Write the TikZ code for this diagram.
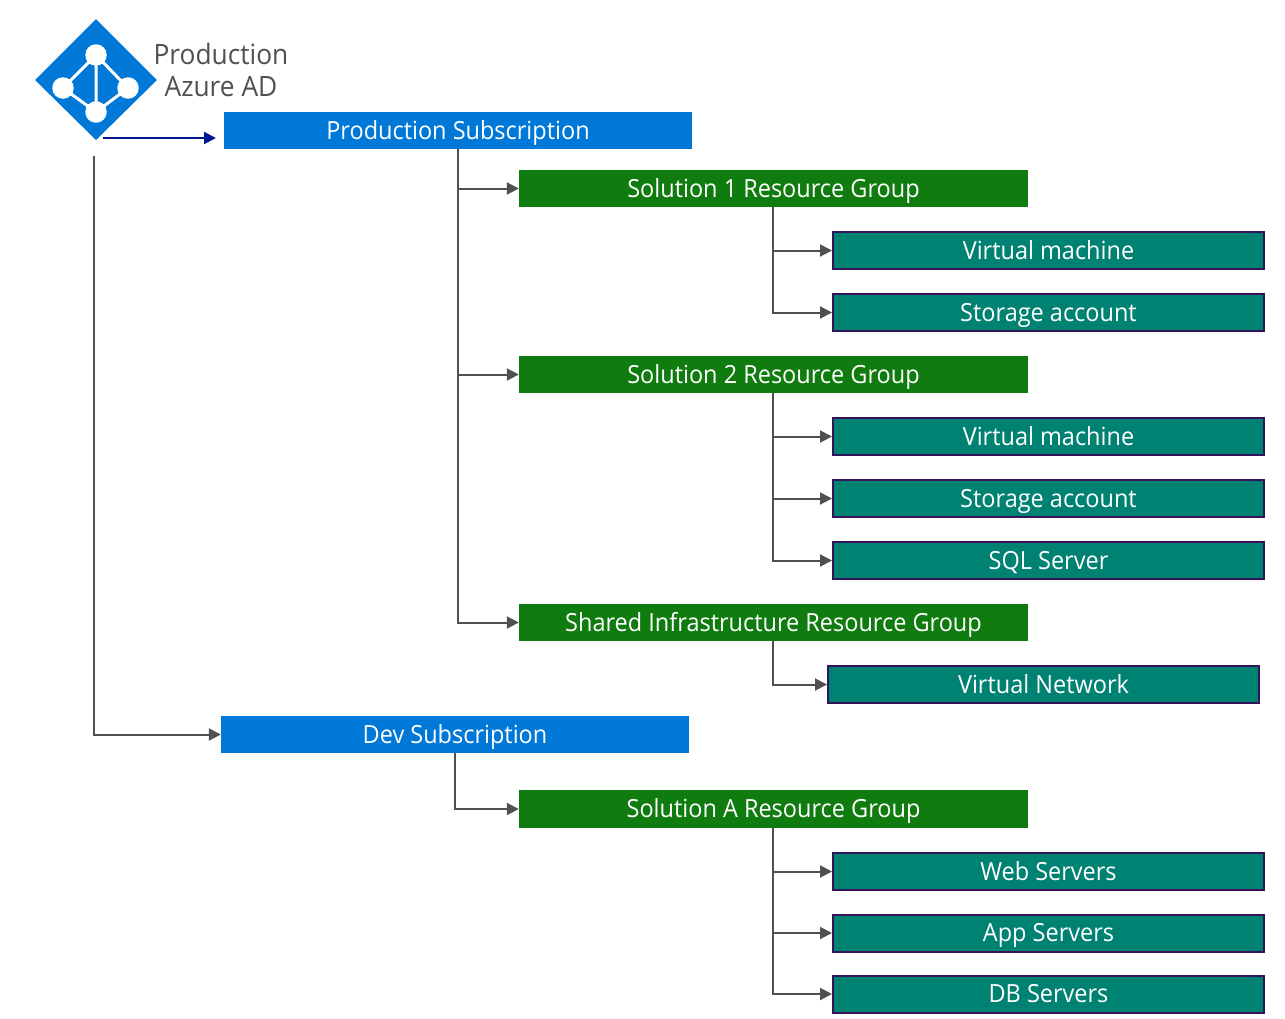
\documentclass[tikz,border=0pt]{standalone}
\usepackage{fontspec}
\setmainfont[FakeStretch=0.94]{Open Sans}
\usetikzlibrary{arrows.meta}
\definecolor{azblue}{HTML}{0078D7}
\definecolor{rggreen}{HTML}{107C10}
\definecolor{resteal}{HTML}{008272}
\definecolor{resline}{HTML}{32145A}
\definecolor{conn}{HTML}{505050}
\definecolor{navyarrow}{HTML}{00188F}
\tikzset{
  x=1pt,y=-1pt,
  boxlabel/.style={anchor=center,inner sep=0pt,text=white,text height=20pt,text depth=3pt,font=\fontsize{25}{28}\selectfont},
  subbox/.style={boxlabel,fill=azblue,minimum width=468pt,minimum height=37pt},
  rgbox/.style={boxlabel,fill=rggreen,minimum width=509pt,minimum height=37pt},
  resbox/.style={boxlabel,fill=resteal,draw=resline,line width=2pt,minimum width=431pt,minimum height=37pt},
  connector/.style={draw=conn,line width=2pt,-{Triangle[length=12pt,width=12pt]}},
  trunk/.style={draw=conn,line width=2pt},
  adtext/.style={anchor=center,inner sep=0pt,text=conn,text height=22pt,text depth=0pt,font=\fontsize{28}{32}\selectfont},
  iconline/.style={draw=white,line width=3pt},
  icondot/.style={circle,fill=white,inner sep=0pt,minimum size=21.5pt}
}
\begin{document}
\begin{tikzpicture}
\useasboundingbox (0,0) rectangle (1285,1018);
% icon
\fill[azblue] (96,19) -- (157,80) -- (96,140) -- (35,80) -- cycle;
\node[icondot] (itop) at (96,55) {};
\node[icondot] (ileft) at (63,88) {};
\node[icondot] (iright) at (128,88) {};
\node[icondot] (ibot) at (96,112) {};
\draw[iconline] (itop.center) -- (ileft.center) -- (ibot.center) -- (iright.center) -- (itop.center) -- (ibot.center);
\node[adtext] (adone) at (221,53.5) {Production};
\node[adtext] (adtwo) at (221,85.5) {Azure AD};
% boxes
\node[subbox] (ps) at (458,130.5) {Production Subscription};
\node[rgbox] (rgone) at (773.5,188.5) {Solution 1 Resource Group};
\node[resbox] (vmone) at (1048.5,250.5) {Virtual machine};
\node[resbox] (saone) at (1048.5,312.5) {Storage account};
\node[rgbox] (rgtwo) at (773.5,374.5) {Solution 2 Resource Group};
\node[resbox] (vmtwo) at (1048.5,436.5) {Virtual machine};
\node[resbox] (satwo) at (1048.5,498.5) {Storage account};
\node[resbox] (sql) at (1048.5,560.5) {SQL Server};
\node[rgbox] (rgshared) at (773.5,622.5) {Shared Infrastructure Resource Group};
\node[resbox] (vnet) at (1043.5,684.5) {Virtual Network};
\node[subbox] (dev) at (455,734.5) {Dev Subscription};
\node[rgbox,minimum height=38pt] (rga) at (773.5,809) {Solution A Resource Group};
\node[resbox] (web) at (1048.5,871.5) {Web Servers};
\node[resbox] (app) at (1048.5,933) {App Servers};
\node[resbox] (db) at (1048.5,994) {DB Servers};
% connectors
\coordinate (adstart) at (103,138);
\coordinate (adend) at (216,138);
\coordinate (devstart) at (94,156);
\draw[draw=navyarrow,line width=2pt,-{Triangle[length=12pt,width=12pt]}] (adstart) -- (adend);
\draw[connector] (devstart) |- (dev.west);
\draw[trunk] (ps.south) -- (ps.south |- rgshared.west);
\foreach \t in {rgone,rgtwo,rgshared} \draw[connector] (ps.south) |- (\t.west);
\draw[connector] ([xshift=-.6pt]rgone.south) |- (vmone.west);
\draw[connector] ([xshift=-.6pt]rgone.south) |- (saone.west);
\draw[connector] ([xshift=-.6pt]rgtwo.south) |- (vmtwo.west);
\draw[connector] ([xshift=-.6pt]rgtwo.south) |- (satwo.west);
\draw[connector] ([xshift=-.6pt]rgtwo.south) |- (sql.west);
\draw[connector] ([xshift=-.6pt]rgshared.south) |- (vnet.west);
\draw[connector] (dev.south) |- (rga.west);
\draw[connector] ([xshift=-.6pt]rga.south) |- (web.west);
\draw[connector] ([xshift=-.6pt]rga.south) |- (app.west);
\draw[connector] ([xshift=-.6pt]rga.south) |- (db.west);
\end{tikzpicture}
\end{document}
